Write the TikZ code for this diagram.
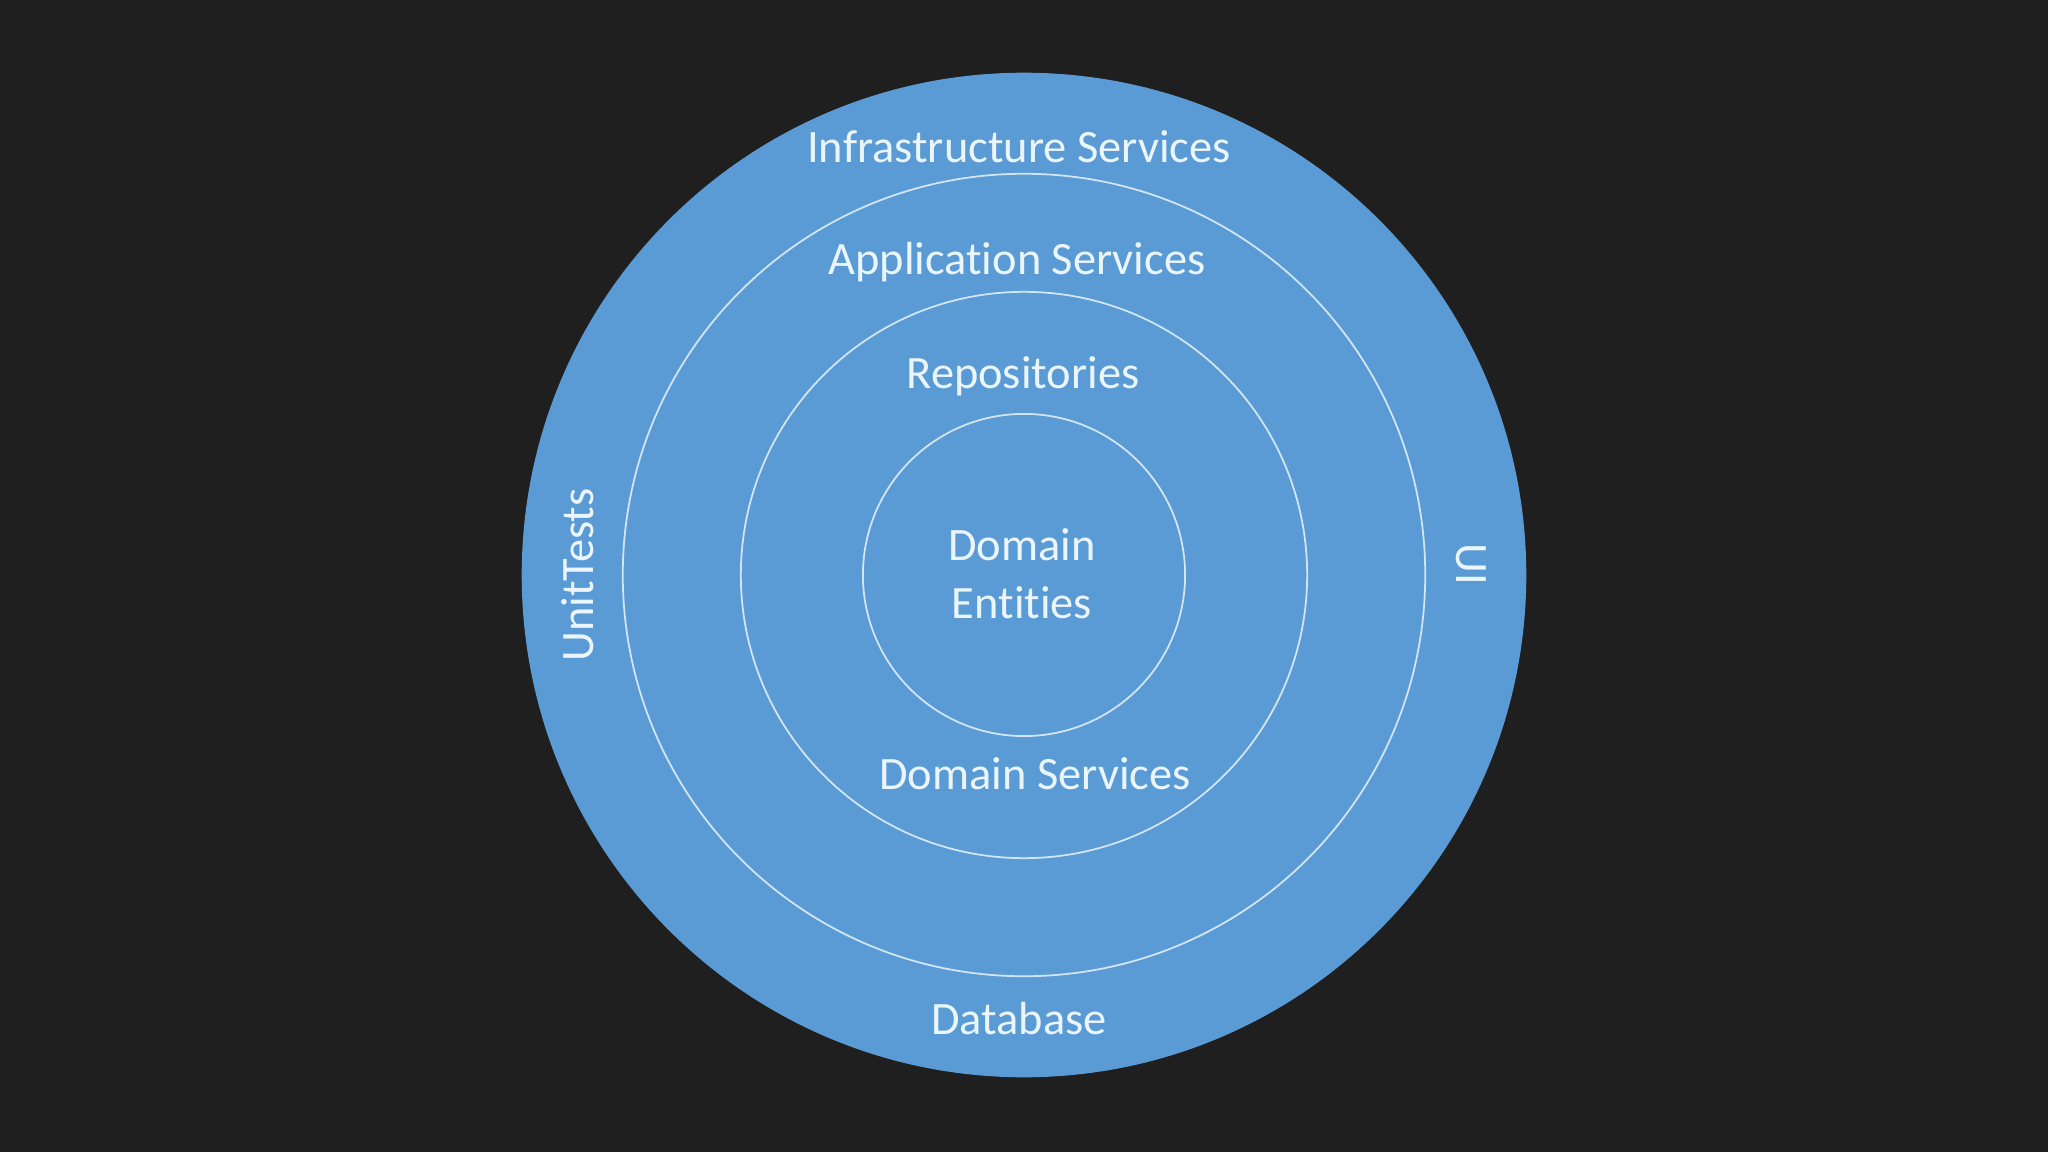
\documentclass[tikz,border=0pt]{standalone}
\usepackage{fontspec}
\setmainfont[Ligatures={NoCommon}]{Carlito}
\usepackage{tikz}
\usetikzlibrary{positioning}
\definecolor{board}{HTML}{1F1F1F}
\definecolor{layerblue}{HTML}{5B9BD5}
\definecolor{ringline}{HTML}{D2E5F3}
\definecolor{labeltext}{HTML}{EAF6FC}

\begin{document}
\begin{tikzpicture}[
  x=0.01cm, y=-0.01cm,
  ring/.style={circle, draw=ringline, line width=0.5pt, inner sep=0pt},
  layer/.style={text=labeltext, font=\fontsize{13.2}{16.4}\selectfont, anchor=base, inner sep=0pt, align=center}
]
\fill[board] (0,0) rectangle (2048,1152);
\useasboundingbox (0,0) rectangle (2048,1152);

\node[circle, fill=layerblue, inner sep=0pt, minimum size=10.04cm] (infra) at (1024,575) {};
\node[ring, minimum size=8.02cm] (app) at (infra.center) {};
\node[ring, minimum size=5.66cm] (repo) at (infra.center) {};
\node[ring, minimum size=3.22cm] (core) at (infra.center) {};

\node[layer] (infratext) at (1019,163) {Infrastructure Services};
\node[layer] (apptext) at (1017,275) {Application Services};
\node[layer] (repotext) at (1023,389) {Repositories};
\node[layer, anchor=center] (coretext) at (1022,574) {Domain\\Entities};
\node[layer] (domsvc) at (1035,789) {Domain Services};
\node[layer] (dbtext) at (1019,1034) {Database};
\node[layer, anchor=center, rotate=90] (tests) at (578,575) {UnitTests};
\node[layer, anchor=center, rotate=-90] (uitext) at (1471,564) {UI};
\end{tikzpicture}
\end{document}
